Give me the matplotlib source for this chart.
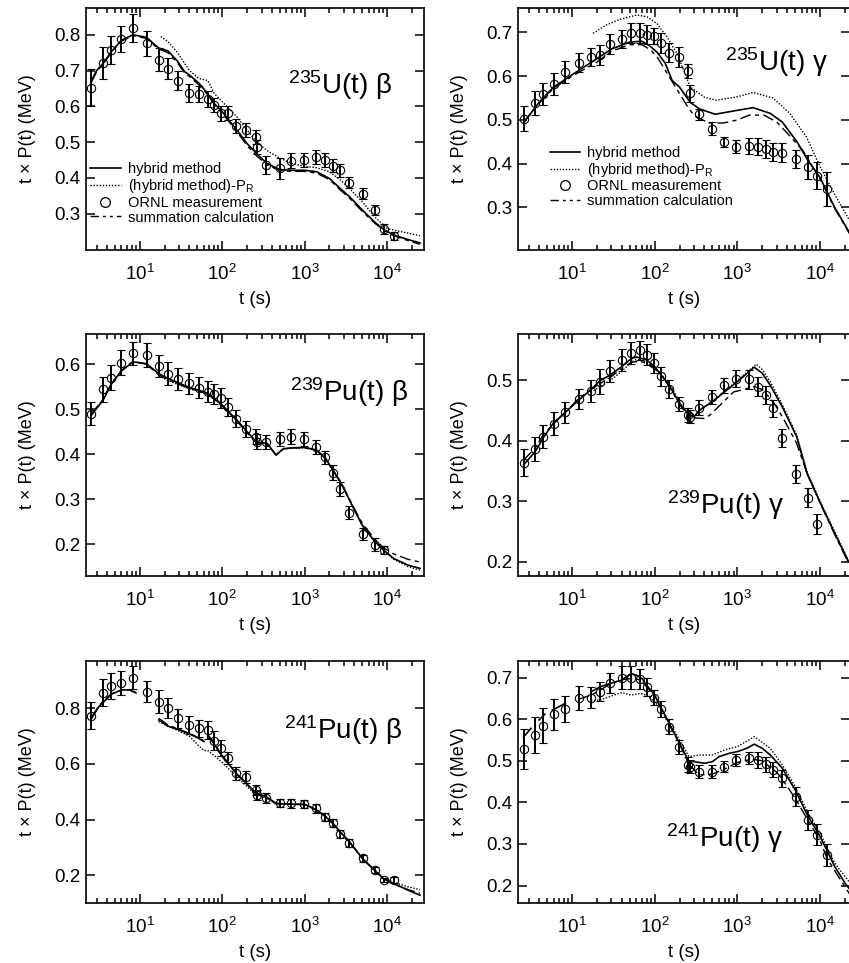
import numpy as np
import matplotlib
matplotlib.use('Agg')
import matplotlib.pyplot as plt
from matplotlib.lines import Line2D
from matplotlib.ticker import LogLocator, NullFormatter, FixedLocator

nan = np.nan

# mean times of the ORNL counting intervals (s)
t_meas = [2.6, 3.6, 4.5, 6.0, 8.3, 12.2, 17, 22, 29, 40, 52, 67, 80, 98, 118, 148,
          196, 255, 265, 343, 497, 690, 975, 1380, 1780, 2220, 2720, 3480, 5050,
          7100, 9100, 12200]

# ---- 235U beta
u5b_meas = [0.652, 0.72, 0.758, 0.788, 0.819, 0.777, 0.73, 0.705, 0.672, 0.638, 0.634,
            0.62, 0.604, 0.58, 0.582, 0.545, 0.534, 0.515, 0.487, 0.437, 0.426, 0.448,
            0.45, 0.459, 0.45, 0.434, 0.421, 0.386, 0.356, 0.31, 0.257, 0.237]
u5b_err = [0.052, 0.045, 0.04, 0.036, 0.038, 0.035, 0.032, 0.03, 0.027, 0.025, 0.023,
           0.022, 0.02, 0.02, 0.02, 0.02, 0.02, 0.02, 0.02, 0.025, 0.03, 0.02, 0.02,
           0.02, 0.02, 0.018, 0.018, 0.015, 0.015, 0.013, 0.015, 0.012]
u5b_hyb_t = [2.6, 3.0, 3.6, 4.5, 6.0, 8.3, 12, 17, 22, 29, 35, 40, 52, 67, 80, 100, 150,
             200, 260, 350, 500, 700, 1000, 1400, 2000, 2700, 3500, 5000, 7000, 9000,
             12000, 18000, 25000]
u5b_hyb = [0.672, 0.70, 0.72, 0.752, 0.785, 0.80, 0.793, 0.763, 0.755, 0.725, 0.697,
           0.688, 0.665, 0.635, 0.608, 0.585, 0.534, 0.496, 0.468, 0.44, 0.423, 0.421,
           0.421, 0.417, 0.398, 0.37, 0.347, 0.31, 0.277, 0.256, 0.24, 0.227, 0.218]
u5b_pr_t = [18, 22, 29, 40, 52, 67, 80, 100, 150, 200, 260, 350, 500, 700, 1000, 1400,
            2000, 2700, 3500, 5000, 7000, 10000, 15000, 25000]
u5b_pr = [0.795, 0.781, 0.749, 0.70, 0.678, 0.672, 0.636, 0.613, 0.571, 0.534, 0.501,
          0.476, 0.455, 0.44, 0.432, 0.428, 0.417, 0.394, 0.37, 0.333, 0.292, 0.258,
          0.249, 0.238]
u5b_sum = [0.668, 0.697, 0.718, 0.75, 0.782, 0.798, 0.79, 0.76, 0.75, 0.72, 0.693,
           0.683, 0.66, 0.632, 0.605, 0.58, 0.53, 0.49, 0.462, 0.436, 0.42, 0.418,
           0.418, 0.413, 0.395, 0.366, 0.343, 0.306, 0.274, 0.254, 0.238, 0.224, 0.214]

# ---- 235U gamma
u5g_meas = [0.503, 0.539, 0.559, 0.583, 0.609, 0.631, 0.644, 0.648, 0.673, 0.685, 0.698,
            0.698, 0.695, 0.692, 0.675, 0.654, 0.644, 0.612, 0.561, 0.513, 0.48, 0.45,
            0.439, 0.44, 0.439, 0.433, 0.427, 0.425, 0.41, 0.393, 0.372, 0.341]
u5g_err = [0.028, 0.027, 0.025, 0.025, 0.025, 0.021, 0.021, 0.023, 0.023, 0.021, 0.023,
           0.023, 0.022, 0.019, 0.023, 0.021, 0.023, 0.017, 0.019, 0.013, 0.015, 0.011,
           0.015, 0.018, 0.019, 0.02, 0.02, 0.022, 0.021, 0.027, 0.031, 0.039]
u5g_hyb_t = [2.6, 4, 6, 10, 20, 30, 50, 70, 85, 107, 134, 163, 200, 270, 350, 540, 1000,
             1550, 2500, 3500, 5300, 7000, 10000, 15000, 23000]
u5g_hyb = [0.493, 0.54, 0.575, 0.603, 0.64, 0.662, 0.678, 0.68, 0.671, 0.655, 0.63, 0.59,
           0.575, 0.54, 0.525, 0.513, 0.522, 0.528, 0.515, 0.495, 0.449, 0.41, 0.368,
           0.3, 0.24]
u5g_pr_t = [18, 26, 38, 61, 81, 107, 141, 186, 224, 270, 400, 560, 1000, 1550, 2700, 4300,
            6900, 10000, 15000, 23000]
u5g_pr = [0.698, 0.717, 0.73, 0.74, 0.736, 0.72, 0.69, 0.652, 0.614, 0.575, 0.552, 0.545,
          0.553, 0.563, 0.55, 0.515, 0.46, 0.393, 0.33, 0.268]
u5g_sum_t = [2.6, 4, 6, 10, 20, 30, 50, 70, 90, 110, 130, 160, 205, 257, 300, 450, 680,
             1000, 1400, 2100, 3000, 4000, 6200, 8000, 10000, 15000, 23000]
u5g_sum = [0.495, 0.538, 0.572, 0.6, 0.632, 0.657, 0.672, 0.672, 0.66, 0.641, 0.618, 0.59,
           0.557, 0.527, 0.51, 0.493, 0.493, 0.5, 0.511, 0.511, 0.495, 0.47, 0.43, 0.395,
           0.365, 0.298, 0.238]

# ---- 239Pu beta
p9b_meas = [0.49, 0.544, 0.57, 0.603, 0.624, 0.62, 0.596, 0.579, 0.567, 0.557, 0.548,
            0.539, 0.533, 0.524, 0.504, 0.479, 0.456, 0.439, 0.428, 0.427, 0.433, 0.439,
            0.433, 0.416, 0.393, 0.359, 0.322, 0.27, 0.222, 0.199, 0.187, nan]
p9b_err = [0.025, 0.028, 0.027, 0.028, 0.026, 0.026, 0.025, 0.025, 0.024, 0.024, 0.023,
           0.023, 0.022, 0.022, 0.02, 0.019, 0.018, 0.017, 0.017, 0.016, 0.016, 0.016,
           0.016, 0.015, 0.014, 0.016, 0.016, 0.015, 0.014, 0.014, 0.009, nan]
p9b_hyb_t = [2.6, 3.6, 4.5, 6, 8.3, 12, 17, 22, 29, 40, 52, 67, 80, 100, 120, 150, 200,
             260, 350, 450, 550, 700, 1000, 1400, 1800, 2200, 2700, 3500, 4000, 5000,
             7000, 9000, 12000, 18000, 25000]
p9b_hyb = [0.487, 0.52, 0.555, 0.585, 0.605, 0.601, 0.579, 0.568, 0.559, 0.548, 0.542,
           0.535, 0.524, 0.509, 0.494, 0.476, 0.45, 0.427, 0.424, 0.398, 0.412, 0.414,
           0.415, 0.409, 0.39, 0.364, 0.339, 0.298, 0.276, 0.242, 0.207, 0.187, 0.168,
           0.153, 0.146]
p9b_pr_t = [17, 22, 29, 40, 52, 67, 80, 100, 120, 150, 200, 260, 350, 450, 550, 700, 1000,
            1400, 1800, 2200, 2700, 3500, 4000, 5000, 7000, 9000, 12000, 18000, 25000]
p9b_pr = [0.575, 0.563, 0.555, 0.545, 0.54, 0.533, 0.522, 0.507, 0.492, 0.474, 0.448,
          0.426, 0.423, 0.398, 0.411, 0.413, 0.414, 0.408, 0.389, 0.363, 0.338, 0.297,
          0.275, 0.241, 0.206, 0.186, 0.166, 0.15, 0.142]
p9b_sum = [0.49, 0.522, 0.556, 0.586, 0.606, 0.6, 0.576, 0.565, 0.556, 0.546, 0.54, 0.533,
           0.522, 0.507, 0.492, 0.474, 0.448, 0.425, 0.422, 0.398, 0.412, 0.414, 0.414,
           0.408, 0.39, 0.365, 0.34, 0.3, 0.279, 0.246, 0.212, 0.192, 0.178, 0.166, 0.16]

# ---- 239Pu gamma
p9g_meas = [0.364, 0.387, 0.407, 0.428, 0.447, 0.469, 0.483, 0.498, 0.516, 0.534, 0.546,
            0.55, 0.543, 0.529, 0.507, 0.486, 0.461, 0.443, 0.44, 0.455, 0.473, 0.492,
            0.503, 0.502, 0.49, 0.476, 0.454, 0.404, 0.345, 0.306, 0.262, nan]
p9g_err = [0.022, 0.02, 0.019, 0.019, 0.017, 0.017, 0.018, 0.021, 0.018, 0.018, 0.018,
           0.016, 0.017, 0.017, 0.016, 0.015, 0.012, 0.012, 0.011, 0.012, 0.012, 0.012,
           0.014, 0.016, 0.015, 0.015, 0.014, 0.015, 0.015, 0.015, 0.016, nan]
p9g_hyb_t = [2.6, 3.6, 4.5, 6, 8.3, 12, 17, 22, 29, 40, 52, 60, 80, 100, 130, 150, 200,
             260, 300, 350, 500, 700, 1000, 1600, 2000, 2500, 3500, 5200, 7000, 10000,
             15000, 22000]
p9g_hyb = [0.36, 0.382, 0.405, 0.43, 0.447, 0.467, 0.485, 0.5, 0.509, 0.523, 0.536, 0.539,
           0.534, 0.523, 0.503, 0.492, 0.462, 0.443, 0.44, 0.451, 0.465, 0.481, 0.498,
           0.522, 0.512, 0.492, 0.456, 0.407, 0.345, 0.298, 0.247, 0.2]
p9g_pr_t = [17, 22, 29, 40, 52, 60, 80, 100, 130, 150, 200, 260, 300, 350, 500, 700, 1000,
            1700, 2000, 2500, 3500, 5200, 7000, 10000, 15000, 22000]
p9g_pr = [0.48, 0.49, 0.5, 0.515, 0.53, 0.535, 0.53, 0.522, 0.505, 0.495, 0.465, 0.443,
          0.44, 0.45, 0.465, 0.482, 0.5, 0.527, 0.518, 0.498, 0.46, 0.41, 0.348, 0.3,
          0.25, 0.202]
p9g_sum_t = [2.6, 3.6, 4.5, 6, 8.3, 12, 17, 22, 29, 40, 52, 67, 80, 110, 150, 200, 260,
             300, 400, 470, 650, 900, 1200, 1600, 2000, 2700, 3600, 5200, 7000, 10000,
             15000, 22000]
p9g_sum = [0.368, 0.388, 0.41, 0.428, 0.447, 0.47, 0.485, 0.495, 0.505, 0.52, 0.53, 0.532,
           0.528, 0.515, 0.49, 0.46, 0.44, 0.438, 0.437, 0.443, 0.462, 0.481, 0.485, 0.49,
           0.485, 0.465, 0.437, 0.396, 0.345, 0.297, 0.245, 0.198]

# ---- 241Pu beta
p1b_meas = [0.774, 0.856, 0.88, 0.89, 0.91, 0.86, 0.824, 0.802, 0.764, 0.74, 0.728, 0.722,
            0.684, 0.656, 0.622, 0.566, 0.554, 0.506, 0.488, 0.476, 0.46, 0.458, 0.455,
            0.44, 0.41, 0.388, 0.347, 0.316, 0.26, 0.22, 0.182, 0.182]
p1b_err = [0.05, 0.048, 0.048, 0.044, 0.042, 0.039, 0.042, 0.036, 0.034, 0.033, 0.031,
           0.034, 0.033, 0.029, 0.022, 0.024, 0.021, 0.018, 0.018, 0.018, 0.015, 0.015,
           0.015, 0.017, 0.015, 0.015, 0.015, 0.015, 0.014, 0.011, 0.008, 0.011]
p1b_hyb_t = [2.6, 3.2, 4.5, 6, 7.5, 9, 10, 17, 22, 29, 40, 52, 60, 65, 67, 80, 100, 118,
             148, 196, 255, 343, 450, 700, 1000, 1400, 1800, 2200, 2700, 3500, 5000, 7000,
             9000, 12000, 18000, 25000]
p1b_hyb = [0.764, 0.806, 0.85, 0.866, 0.866, 0.855, nan, 0.758, 0.736, 0.724, 0.708,
           0.692, 0.68, nan, 0.70, 0.672, 0.626, 0.602, 0.566, 0.53, 0.496, 0.482, 0.458,
           0.455, 0.455, 0.434, 0.41, 0.386, 0.356, 0.32, 0.26, 0.218, 0.188, 0.17,
           0.146, 0.128]
p1b_pr_t = [17, 22, 29, 40, 52, 60, 67, 80, 100, 150, 200, 260, 343, 450, 700, 1000, 1400,
            1800, 2200, 2700, 3500, 5000, 7000, 9000, 12000, 18000, 25000]
p1b_pr = [0.752, 0.735, 0.72, 0.7, 0.665, 0.648, 0.648, 0.63, 0.605, 0.554, 0.518, 0.488,
          0.478, 0.458, 0.455, 0.453, 0.434, 0.41, 0.387, 0.355, 0.32, 0.262, 0.22, 0.19,
          0.174, 0.158, 0.148]
p1b_sum = [0.768, 0.81, 0.852, 0.866, 0.866, 0.857, nan, 0.764, 0.74, 0.726, 0.71, 0.694,
           0.683, nan, 0.705, 0.675, 0.63, 0.604, 0.565, 0.53, 0.494, 0.478, 0.456,
           0.455, 0.454, 0.435, 0.41, 0.385, 0.354, 0.318, 0.26, 0.218, 0.187, 0.168,
           0.148, 0.135]

# ---- 241Pu gamma
p1g_meas = [0.528, 0.562, 0.584, 0.612, 0.624, 0.65, 0.652, 0.666, 0.688, 0.7, 0.7, 0.696,
            0.678, 0.652, 0.624, 0.582, 0.534, 0.49, 0.486, 0.474, 0.474, 0.486, 0.502,
            0.506, 0.502, 0.492, 0.478, 0.458, 0.414, 0.358, 0.322, 0.274]
p1g_err = [0.048, 0.043, 0.042, 0.037, 0.031, 0.029, 0.025, 0.023, 0.024, 0.028, 0.028,
           0.024, 0.021, 0.018, 0.019, 0.018, 0.017, 0.018, 0.016, 0.016, 0.016, 0.014,
           0.014, 0.014, 0.02, 0.018, 0.018, 0.02, 0.022, 0.024, 0.025, 0.027]
p1g_hyb_t = [2.6, 3.2, 3.5, 4.0, 4.7, 5.2, 5.8, 8.3, 10, 17, 22, 29, 40, 52, 60, 70, 80,
             100, 118, 150, 200, 260, 300, 400, 500, 600, 800, 1000, 1300, 1600, 2000,
             2500, 3500, 5000, 7000, 10000, 12000, 15000, 20000, 23000]
p1g_hyb = [0.557, 0.578, nan, 0.598, 0.612, nan, 0.622, 0.638, nan, 0.666, 0.678, 0.686,
           0.694, 0.71, 0.706, 0.698, 0.682, 0.658, 0.63, 0.59, 0.542, 0.498, 0.498,
           0.494, 0.498, 0.51, 0.518, 0.522, 0.53, 0.54, 0.53, 0.514, 0.482, 0.43, 0.37,
           0.318, 0.286, 0.246, 0.206, 0.19]
p1g_pr_t = [17, 22, 29, 40, 52, 67, 80, 100, 118, 150, 200, 260, 350, 500, 700, 1000, 1600,
            2500, 3500, 5000, 7000, 10000, 15000, 23000]
p1g_pr = [0.645, 0.646, 0.655, 0.664, 0.658, 0.662, 0.658, 0.642, 0.626, 0.594, 0.55,
          0.51, 0.514, 0.514, 0.526, 0.534, 0.558, 0.53, 0.49, 0.438, 0.378, 0.326, 0.254,
          0.206]
p1g_sum_t = [12, 17, 22, 29, 40, 52, 67, 80, 100, 118, 150, 200, 260, 343, 500, 700, 1000,
             1500, 2000, 3000, 3500, 5000, 7000, 10000, 12000, 15000, 23000]
p1g_sum = [0.648, 0.658, 0.67, 0.685, 0.695, 0.698, 0.695, 0.678, 0.655, 0.628, 0.588,
           0.54, 0.492, 0.466, 0.468, 0.48, 0.496, 0.504, 0.5, 0.472, 0.455, 0.41, 0.36,
           0.308, 0.268, 0.236, 0.178]

plt.rcParams['font.family'] = ['Liberation Sans', 'DejaVu Sans']
plt.rcParams['mathtext.fontset'] = 'custom'
plt.rcParams['mathtext.rm'] = 'Liberation Sans'
plt.rcParams['mathtext.it'] = 'Liberation Sans:italic'
plt.rcParams['axes.linewidth'] = 1.2

W, H = 849, 963
fig = plt.figure(figsize=(W / 100, H / 100), dpi=100)

col_left = [(86, 338, 2.23, 28000), (518, 332, 2.23, 23000)]
row_top = [8, 334, 661]
ph = 242

dash_sum = (8, 3, 3, 3)
dot_pr = (0, (1, 1.2))

panels = [
    dict(meas=u5b_meas, err=u5b_err, ht=u5b_hyb_t, hv=u5b_hyb, pt=u5b_pr_t, pv=u5b_pr,
         st=u5b_hyb_t, sv=u5b_sum, ylim=(0.198, 0.875), yt=[0.3, 0.4, 0.5, 0.6, 0.7, 0.8],
         txt='$\\mathregular{^{235}}$U(t) β', tx=0.905, ty=0.68, leg=(0.012, 0.362)),
    dict(meas=u5g_meas, err=u5g_err, ht=u5g_hyb_t, hv=u5g_hyb, pt=u5g_pr_t, pv=u5g_pr,
         st=u5g_sum_t, sv=u5g_sum, ylim=(0.2025, 0.756), yt=[0.3, 0.4, 0.5, 0.6, 0.7],
         txt='$\\mathregular{^{235}}$U(t) γ', tx=0.935, ty=0.775, leg=(0.095, 0.43)),
    dict(meas=p9b_meas, err=p9b_err, ht=p9b_hyb_t, hv=p9b_hyb, pt=p9b_pr_t, pv=p9b_pr,
         st=p9b_hyb_t, sv=p9b_sum, ylim=(0.129, 0.667), yt=[0.2, 0.3, 0.4, 0.5, 0.6],
         txt='$\\mathregular{^{239}}$Pu(t) β', tx=0.952, ty=0.76, leg=None),
    dict(meas=p9g_meas, err=p9g_err, ht=p9g_hyb_t, hv=p9g_hyb, pt=p9g_pr_t, pv=p9g_pr,
         st=p9g_sum_t, sv=p9g_sum, ylim=(0.176, 0.577), yt=[0.2, 0.3, 0.4, 0.5],
         txt='$\\mathregular{^{239}}$Pu(t) γ', tx=0.8, ty=0.295, leg=None),
    dict(meas=p1b_meas, err=p1b_err, ht=p1b_hyb_t, hv=p1b_hyb, pt=p1b_pr_t, pv=p1b_pr,
         st=p1b_hyb_t, sv=p1b_sum, ylim=(0.10, 0.97), yt=[0.2, 0.4, 0.6, 0.8],
         txt='$\\mathregular{^{241}}$Pu(t) β', tx=0.935, ty=0.715, leg=None),
    dict(meas=p1g_meas, err=p1g_err, ht=p1g_hyb_t, hv=p1g_hyb, pt=p1g_pr_t, pv=p1g_pr,
         st=p1g_sum_t, sv=p1g_sum, ylim=(0.158, 0.74), yt=[0.2, 0.3, 0.4, 0.5, 0.6, 0.7],
         txt='$\\mathregular{^{241}}$Pu(t) γ', tx=0.797, ty=0.27, leg=None),
]

for i, p in enumerate(panels):
    left, width, x0, x1 = col_left[i % 2]
    top = row_top[i // 2]
    ax = fig.add_axes([left / W, (H - top - ph) / H, width / W, ph / H])

    ax.plot(p['st'], p['sv'], color='k', lw=1.0, dashes=dash_sum)
    ax.plot(p['pt'], p['pv'], color='k', lw=1.0, ls=dot_pr)
    ax.plot(p['ht'], p['hv'], color='k', lw=1.2)
    ax.errorbar(t_meas, p['meas'], yerr=p['err'], fmt='o', ms=6, mfc='none', mec='k',
                mew=0.8, ecolor='k', elinewidth=1.4, capsize=3, capthick=1.2)

    ax.set_xscale('log')
    ax.set_xlim(x0, x1)
    ax.set_ylim(*p['ylim'])
    ax.yaxis.set_major_locator(FixedLocator(p['yt']))
    ax.set_yticklabels([f'{v:.1f}' for v in p['yt']])
    ax.xaxis.set_major_locator(LogLocator(base=10, numticks=10))
    ax.xaxis.set_minor_locator(LogLocator(base=10, subs=np.arange(2, 10), numticks=20))
    ax.xaxis.set_minor_formatter(NullFormatter())
    ax.tick_params(which='both', direction='in', top=True, right=True, width=1.1)
    ax.tick_params(which='major', length=6.5, labelsize=13.5)
    ax.tick_params(which='minor', length=3.5)
    ax.tick_params(axis='x', which='major', pad=10)
    ax.tick_params(axis='y', which='major', pad=4)

    ax.set_xlabel('t (s)', fontsize=13.5, labelpad=5)
    ax.set_ylabel('t × P(t) (MeV)', fontsize=13, labelpad=13)

    ax.text(p['tx'], p['ty'], p['txt'], transform=ax.transAxes, ha='right', va='center',
            fontsize=20)

    if p['leg'] is not None:
        handles = [
            Line2D([], [], color='k', lw=1.2),
            Line2D([], [], color='k', lw=1.0, ls=dot_pr),
            Line2D([], [], color='k', ls='none', marker='o', ms=7, mfc='none', mew=0.9),
            Line2D([], [], color='k', lw=1.0, dashes=(6, 3, 2, 3, 2, 3)),
        ]
        labels = ['hybrid method', '(hybrid method)-P$\\mathregular{_R}$',
                  'ORNL measurement', 'summation calculation']
        ax.legend(handles, labels, loc='upper left', bbox_to_anchor=p['leg'],
                  frameon=False, fontsize=10.5, handlelength=2.1, handletextpad=0.5,
                  borderpad=0, borderaxespad=0, labelspacing=0.05)

fig.savefig('out.png', dpi=100)
